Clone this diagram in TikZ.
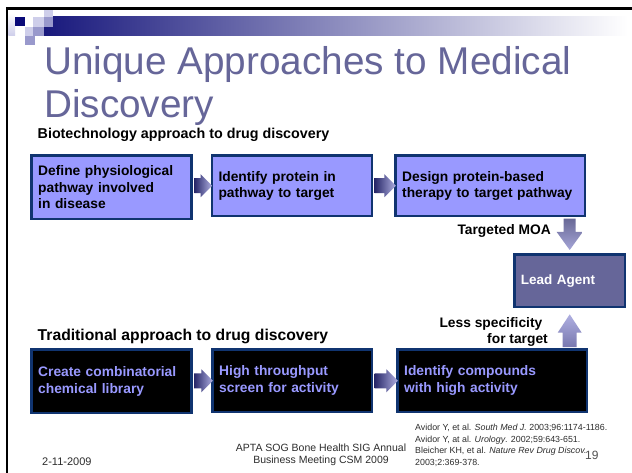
\documentclass[tikz,border=0pt]{standalone}
\usepackage{fontspec}
\setmainfont{Liberation Sans}
\usetikzlibrary{calc}
\definecolor{titlecol}{RGB}{102,102,153}
\definecolor{boxborder}{RGB}{16,52,112}
\definecolor{topfill}{RGB}{153,153,255}
\definecolor{leadfill}{RGB}{102,102,153}
\definecolor{bottomtext}{RGB}{153,153,255}
\definecolor{navyc}{RGB}{10,10,120}
\definecolor{barstart}{RGB}{25,25,125}
\definecolor{lavlight}{RGB}{206,206,234}
\definecolor{lavmid}{RGB}{153,153,204}
\definecolor{arrdark}{RGB}{40,40,105}
\definecolor{arrlight}{RGB}{175,175,225}
\definecolor{downtop}{RGB}{105,105,150}
\definecolor{downbot}{RGB}{165,165,215}
\definecolor{uptop}{RGB}{175,175,225}
\definecolor{upbot}{RGB}{120,120,175}
\definecolor{footc}{RGB}{45,45,45}
\newcommand\hblockarrow[2]{%
  \shade[left color=arrdark, right color=arrlight]
    let \p1=(#1.east), \p2=(#2.west) in
    (\x1+1.35pt,\y2+7.5pt) -- (\x2-10pt,\y2+7.5pt) -- (\x2-10pt,\y2+11.5pt) --
    (\x2+1.5pt,\y2) -- (\x2-10pt,\y2-11.5pt) -- (\x2-10pt,\y2-7.5pt) --
    (\x1+1.35pt,\y2-7.5pt) -- cycle;}
\begin{document}
\begin{tikzpicture}[x=1pt,y=-1pt,
  boxbase/.style={draw=boxborder, line width=2.7pt, anchor=north west,
    inner xsep=6.5pt, inner ysep=0pt, align=left},
  topbox/.style={boxbase, fill=topfill, text=black,
    font=\fontsize{13.8}{16.2}\selectfont\bfseries},
  botbox/.style={boxbase, fill=black, text=bottomtext,
    font=\fontsize{13.8}{17}\selectfont\bfseries},
  leadbox/.style={boxbase, fill=leadfill, text=white,
    font=\fontsize{13.5}{16}\selectfont\bfseries},
  lbl/.style={inner sep=0pt, font=\fontsize{13.8}{16.2}\selectfont\bfseries},
  titletext/.style={inner sep=0pt, anchor=base west, text=titlecol,
    font=\fontsize{38.7}{44}\selectfont},
  foottext/.style={inner sep=0pt, text=footc, font=\fontsize{10.5}{12}\selectfont},
  reftext/.style={inner sep=0pt, anchor=base west, text=footc,
    font=\fontsize{8.85}{11}\selectfont}
]
\useasboundingbox (0,0) rectangle (632,473);
\fill[white] (0,0) rectangle (632,473);
% slide frame
\draw[line width=2.7pt, line join=miter] (632,8.7) -- (7,8.7) -- (7,473);
% header decoration
\shade[top color=white, bottom color=lavlight] (8.4,13) rectangle (15,36);
\shade[left color=barstart, right color=white] (44,17) rectangle (628,36);
\fill[navyc] (15,17) rectangle (25,26.5);
\fill[lavlight] (33,17) rectangle (44,27);
\fill[lavlight] (44,10) rectangle (53,17);
\fill[lavmid] (44,17) rectangle (53,27);
\fill[lavlight] (25,27) rectangle (33,36);
\fill[lavmid] (33,27) rectangle (44,36);
\fill[lavmid] (25,36) rectangle (35,45);
% title
\node[titletext] (title1) at (44,75) {Unique Approaches to Medical};
\node[titletext] (title2) at (44,117.5) {Discovery};
% biotechnology row
\node[lbl, anchor=base west, font=\fontsize{14.3}{16}\selectfont\bfseries] (bio) at (37.5,139)
  {Biotechnology approach to drug discovery};
\node[topbox, text width=147pt, minimum height=63.6pt] (b1) at (30.35,154.05)
  {Define physiological\\pathway involved\\in disease};
\node[topbox, text width=147pt, minimum height=60.6pt] (b2) at (210.65,154.05)
  {Identify protein in\\pathway to target};
\node[topbox, text width=176.3pt, minimum height=60.6pt] (b3) at (394.35,154.05)
  {Design protein-based\\therapy to target pathway};
% lead agent
\node[leadbox, text width=97.6pt, minimum height=52.3pt] (lead) at (513.05,253.35)
  {Lead Agent};
% traditional row
\node[lbl, anchor=base west, font=\fontsize{15.7}{18}\selectfont\bfseries] (trad) at (37.5,340)
  {Traditional approach to drug discovery};
\node[botbox, text width=146.8pt, minimum height=63.3pt] (b4) at (30.35,348.35)
  {Create combinatorial\\chemical library};
\node[botbox, text width=146.3pt, minimum height=62.3pt] (b5) at (211.35,348.35)
  {High throughput\\screen for activity};
\node[botbox, text width=176.3pt, minimum height=62.3pt] (b6) at (396.35,348.35)
  {Identify compounds\\with high activity};
% horizontal block arrows
\hblockarrow{b1}{b2}
\hblockarrow{b2}{b3}
\hblockarrow{b4}{b5}
\hblockarrow{b5}{b6}
% down arrow: biotech -> lead
\shade[top color=downtop, bottom color=downbot]
  let \p1=(b3.south), \p2=(lead.north) in
  (\x2-6pt,\y1-1.35pt) -- (\x2-6pt,\y2+21.35pt) -- (\x2-13pt,\y2+21.35pt) --
  (\x2,\y2+3.35pt) -- (\x2+13pt,\y2+21.35pt) -- (\x2+6pt,\y2+21.35pt) --
  (\x2+6pt,\y1-1.35pt) -- cycle;
% up arrow: traditional -> lead
\shade[top color=uptop, bottom color=upbot]
  let \p1=(b6.north), \p2=(lead.south) in
  (\x2-7pt,\y1+1.35pt) -- (\x2-7pt,\y2-24.35pt) -- (\x2-12pt,\y2-24.35pt) --
  (\x2,\y2-6pt) -- (\x2+12pt,\y2-24.35pt) -- (\x2+7pt,\y2-24.35pt) --
  (\x2+7pt,\y1+1.35pt) -- cycle;
% labels
\node[lbl, anchor=base east] (moa) at (551,235) {Targeted MOA};
\node[lbl, anchor=base east] (less1) at (542.5,327) {Less specificity};
\node[lbl, anchor=base east] (less2) at (548,343) {for target};
% footer
\node[foottext, anchor=base west, font=\fontsize{11}{12}\selectfont] (date) at (42,465) {2-11-2009};
\node[foottext, anchor=base] (apta1) at (321,451) {APTA SOG Bone Health SIG Annual};
\node[foottext, anchor=base] (apta2) at (321,463) {Business Meeting CSM 2009};
\node[reftext] (r1) at (415,430) {Avidor Y, et al. \textit{South Med J.} 2003;96:1174-1186.};
\node[reftext] (r2) at (415,442) {Avidor Y, at al. \textit{Urology}. 2002;59:643-651.};
\node[reftext] (r3) at (415,453.5) {Bleicher KH, et al. \textit{Nature Rev Drug Discov.}};
\node[reftext] (r4) at (415,465) {2003;2:369-378.};
\node[foottext, anchor=base west, text={rgb,255:red,80;green,80;blue,80},
  font=\fontsize{12}{14}\selectfont] (pg) at (585,459) {19};
\end{tikzpicture}
\end{document}
